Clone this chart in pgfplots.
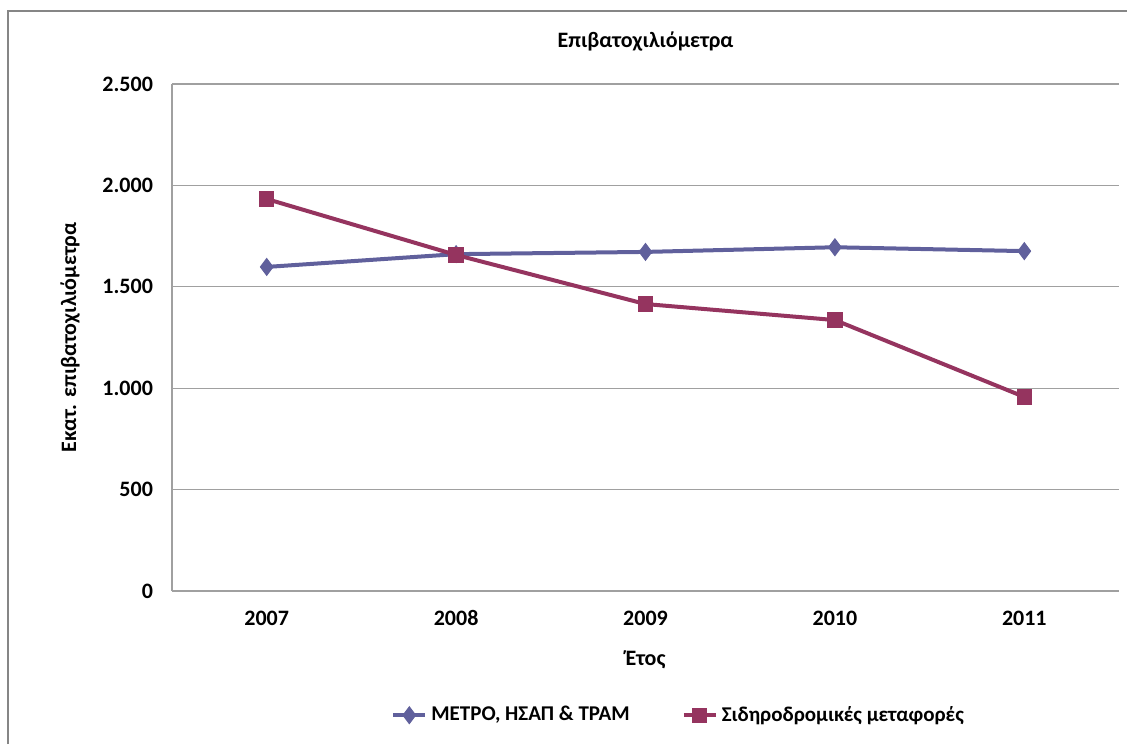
\documentclass[border=0pt]{standalone}
\usepackage{pgfplots}
\pgfplotsset{compat=1.18}
\usepackage{fontspec}
\setmainfont{Carlito}
\definecolor{metro}{RGB}{96,96,156}
\definecolor{rail}{RGB}{149,52,95}
\definecolor{gridc}{RGB}{160,160,160}
\definecolor{framec}{RGB}{134,134,134}
\begin{document}
\begin{tikzpicture}
\useasboundingbox (0,0) rectangle (563.5pt,372pt);
\draw[framec, line width=0.6pt] (4pt,0pt) -- (4pt,366.5pt) -- (563.5pt,366.5pt);
\begin{axis}[
  at={(86pt,76.5pt)}, anchor=south west,
  width=473.5pt, height=253.5pt, scale only axis,
  xmin=-0.5, xmax=4.5, ymin=0, ymax=2500,
  xtick={0,1,2,3,4},
  xticklabels={2007,2008,2009,2010,2011},
  ytick={0,500,1000,1500,2000,2500},
  yticklabels={0,500,1.000,1.500,2.000,2.500},
  major tick length=0pt,
  axis x line*=bottom, axis y line*=left,
  axis line style={gridc, line width=0.6pt, -},
  ymajorgrids, grid style={gridc, line width=0.6pt},
  tick label style={font=\fontsize{11}{13}\selectfont\bfseries},
  xticklabel style={yshift=-6pt, text height=1.6ex, text depth=0.2ex},
  yticklabel style={xshift=-6pt},
  title={Επιβατοχιλιόμετρα},
  title style={font=\fontsize{11}{13}\selectfont\bfseries, at={(axis description cs:0.5,1.083)}, anchor=center, yshift=0pt},
  every axis title shift=0pt,
  xlabel={Έτος},
  xlabel style={font=\fontsize{11}{13}\selectfont\bfseries, at={(axis description cs:0.5,-0.136)}, anchor=center},
  ylabel={Εκατ. επιβατοχιλιόμετρα},
  ylabel style={font=\fontsize{11}{13}\selectfont\bfseries, at={(axis description cs:-0.1077,0.5)}, anchor=center},
  legend columns=2,
  legend style={draw=none, at={(axis description cs:0.536,-0.245)}, anchor=center,
    font=\fontsize{10.5}{12}\selectfont\bfseries,
    /tikz/every even column/.append style={column sep=24pt}},
  legend image code/.code={\draw[#1, mark repeat=2, mark phase=2] plot coordinates {(0pt,0pt) (8pt,0pt) (16pt,0pt)};},
]
\addplot[metro, line width=2pt, mark=diamond*, mark size=4.2pt, mark options={solid, fill=metro, line width=0.5pt}]
  coordinates {(0,1598) (1,1661) (2,1672) (3,1695) (4,1676)};
\addlegendentry{ΜΕΤΡΟ, ΗΣΑΠ \& ΤΡΑΜ}
\addplot[rail, line width=2pt, mark=square*, mark size=3.6pt, mark options={solid, fill=rail, line width=0.5pt}]
  coordinates {(0,1933) (1,1657) (2,1415) (3,1336) (4,957)};
\addlegendentry{Σιδηροδρομικές μεταφορές}
\end{axis}
\end{tikzpicture}
\end{document}
